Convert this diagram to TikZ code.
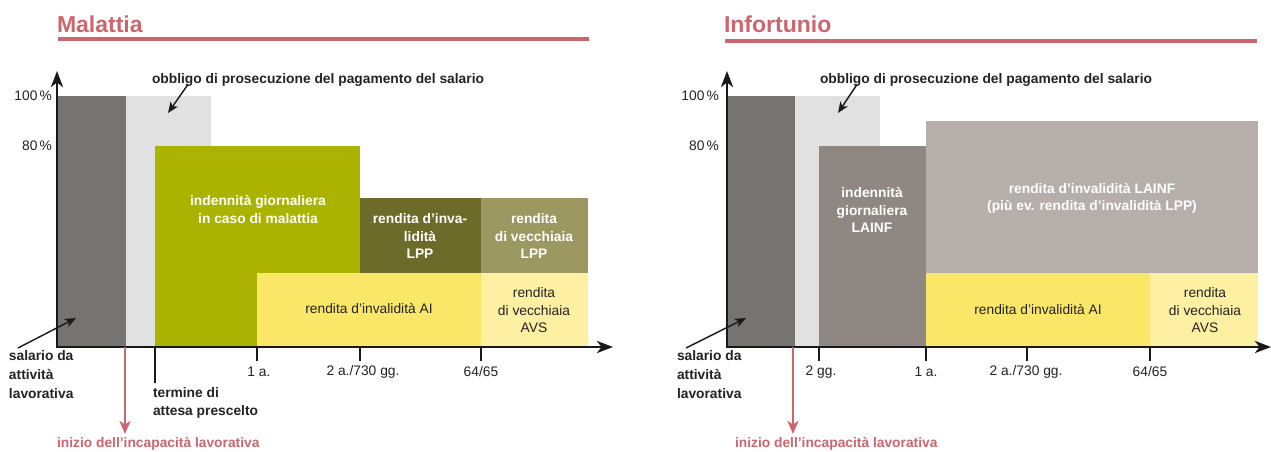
\documentclass[tikz,border=0pt]{standalone}
\usepackage{fontspec}
\setmainfont{Liberation Sans}
\usetikzlibrary{arrows.meta,calc}
\definecolor{ttlred}{RGB}{203,102,110}
\definecolor{cdark}{RGB}{117,116,114}
\definecolor{clight}{RGB}{225,225,225}
\definecolor{colive}{RGB}{169,179,0}
\definecolor{cdolive}{RGB}{108,107,41}
\definecolor{cogray}{RGB}{156,152,98}
\definecolor{cyellow}{RGB}{251,231,103}
\definecolor{cpale}{RGB}{254,240,162}
\definecolor{cbrown}{RGB}{143,136,130}
\definecolor{ctaupe}{RGB}{182,174,171}
\definecolor{ctext}{RGB}{35,35,35}
\begin{document}
\begin{tikzpicture}[x=1pt,y=-1pt,
  every node/.style={inner sep=0pt,outer sep=0pt},
  ttl/.style={text=ttlred,font=\fontsize{23}{26}\selectfont\bfseries,anchor=base west},
  ttlline/.style={draw=ttlred,line width=3.2pt},
  wt/.style={text=white,font=\fontsize{13.8}{17.5}\selectfont\bfseries,align=center},
  dk/.style={text=ctext,font=\fontsize{13.8}{17.5}\selectfont,align=center},
  lbl/.style={text=ctext,font=\fontsize{13.8}{19}\selectfont\bfseries,align=left},
  tlbl/.style={text=ctext,font=\fontsize{13.8}{16}\selectfont},
  redlbl/.style={text=ttlred,font=\fontsize{13.8}{16}\selectfont\bfseries},
  axisline/.style={draw=black!90,line width=2.8pt,-{Stealth[length=16pt,width=12pt,inset=4.5pt]}},
  tickline/.style={draw=black!90,line width=2.2pt},
  note/.style={draw=black!90,line width=1.4pt,-{Stealth[length=11pt,width=9pt,inset=3pt]}},
  redarrow/.style={draw=ttlred,line width=2.5pt,-{Stealth[length=13pt,width=11pt,inset=3.5pt]}}]
\useasboundingbox (0,0) rectangle (1271,451);
\fill[white] (0,0) rectangle (1271,451);

% ================= Left panel: Malattia =================
\node[ttl] (t1) at (57,32) {Malattia};
\draw[ttlline] (58,39) -- (589,39);

\fill[cdark]   (58,96)   rectangle (126,347);
\fill[clight]  (126,96)  rectangle (211,347);
\fill[colive]  (155,146) rectangle (360,347);
\fill[cyellow] (257,273) rectangle (481,347);
\fill[cdolive] (360,198) rectangle (481,273);
\fill[cogray]  (481,198) rectangle (588,273);
\fill[cpale]   (481,273) rectangle (588,347);

\node[wt] (a1) at (258,209.5) {indennità giornaliera\\in caso di malattia};
\node[wt] (a2) at (420,236) {rendita d’inva-\\lidità\\LPP};
\node[wt] (a3) at (534,236) {rendita\\di vecchiaia\\LPP};
\node[dk] (a4) at (369,308) {rendita d’invalidità AI};
\node[dk] (a5) at (534,310.5) {rendita\\di vecchiaia\\AVS};

\draw[tickline] (155,347) -- (155,383);
\draw[tickline] (257,347) -- (257,361);
\draw[tickline] (360,347) -- (360,361);
\draw[tickline] (481,347) -- (481,361);

\draw[axisline] (57,348) -- (57,71);
\draw[axisline] (56,347) -- (613,347);

\node[tlbl,anchor=east] (p1a) at (52,96) {100\,\%};
\node[tlbl,anchor=east] (p1b) at (52,146) {80\,\%};
\node[tlbl] (x1a) at (259,372) {1 a.};
\node[tlbl] (x1b) at (363,372) {2 a./730 gg.};
\node[tlbl] (x1c) at (481,372) {64/65};

\node[lbl,anchor=west] (ob1) at (152,80) {obbligo di prosecuzione del pagamento del salario};
\coordinate (ob1e) at (168,113);
\draw[note] ($(ob1.south west)+(36,-2)$) -- (ob1e);

\node[lbl,anchor=north west] (sa1) at (9,350) {salario da\\attività\\lavorativa};
\coordinate (sa1e) at (76,318);
\draw[note] ($(sa1.north west)+(9,-2)$) -- (sa1e);

\node[lbl,anchor=north west,font=\fontsize{13.8}{18}\selectfont\bfseries] (te1) at (153,387) {termine di\\attesa prescelto};

\node[redlbl,anchor=west] (in1) at (57,444) {inizio dell’incapacità lavorativa};
\coordinate (r1) at (125,347);
\draw[redarrow] (r1) -- (125,434);

% ================= Right panel: Infortunio =================
\node[ttl] (t2) at (724,32) {Infortunio};
\draw[ttlline] (725,41) -- (1257,41);

\fill[cdark]   (727,96)  rectangle (795,347);
\fill[clight]  (795,96)  rectangle (880,347);
\fill[cbrown]  (819,146) rectangle (926,347);
\fill[ctaupe]  (926,121) rectangle (1258,273);
\fill[cyellow] (926,273) rectangle (1150,347);
\fill[cpale]   (1150,273) rectangle (1258,347);

\node[wt] (b1) at (872,210) {indennità\\giornaliera\\LAINF};
\node[wt] (b2) at (1092,198.5) {rendita d’invalidità LAINF\\(più ev. rendita d’invalidità LPP)};
\node[dk] (b3) at (1038,309) {rendita d’invalidità AI};
\node[dk] (b4) at (1205,310.5) {rendita\\di vecchiaia\\AVS};

\draw[tickline] (819,347) -- (819,361);
\draw[tickline] (926,347) -- (926,361);
\draw[tickline] (1027,347) -- (1027,361);
\draw[tickline] (1150,347) -- (1150,361);

\draw[axisline] (727,348) -- (727,71);
\draw[axisline] (726,347) -- (1271,347);

\node[tlbl,anchor=east] (p2a) at (719,96) {100\,\%};
\node[tlbl,anchor=east] (p2b) at (719,146) {80\,\%};
\node[tlbl] (x2a) at (821,372) {2 gg.};
\node[tlbl] (x2b) at (926,372) {1 a.};
\node[tlbl] (x2c) at (1026,372) {2 a./730 gg.};
\node[tlbl] (x2d) at (1150,372) {64/65};

\node[lbl,anchor=west] (ob2) at (820,80) {obbligo di prosecuzione del pagamento del salario};
\coordinate (ob2e) at (838,113);
\draw[note] ($(ob2.south west)+(37,-2)$) -- (ob2e);

\node[lbl,anchor=north west] (sa2) at (677,350) {salario da\\attività\\lavorativa};
\coordinate (sa2e) at (746,318);
\draw[note] ($(sa2.north west)+(9,-2)$) -- (sa2e);

\node[redlbl,anchor=west] (in2) at (735,444) {inizio dell’incapacità lavorativa};
\coordinate (r2) at (793,347);
\draw[redarrow] (r2) -- (793,434);
\end{tikzpicture}
\end{document}
